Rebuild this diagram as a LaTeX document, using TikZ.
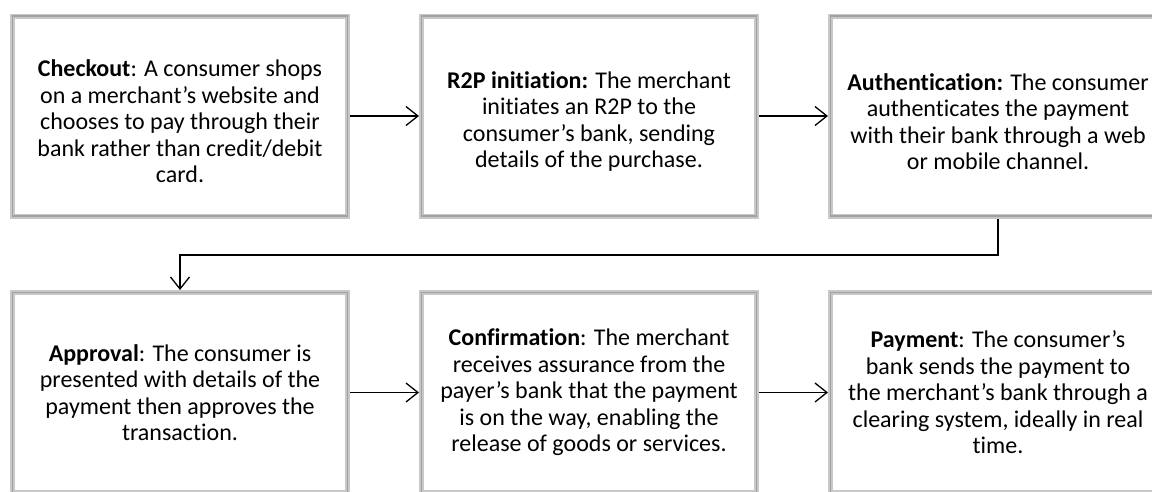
\documentclass[tikz,border=0pt]{standalone}
\usepackage{fontspec}
\setmainfont{Carlito}[Ligatures=NoCommon]
\usetikzlibrary{arrows.meta}
\newcommand{\lowerby}{\rule{0pt}{28pt}}
\begin{document}
\begin{tikzpicture}[x=1pt,y=-1pt,
  stepbox/.style={draw={rgb,255:red,200;green,200;blue,200}, line width=5pt,
    postaction={draw={rgb,255:red,160;green,160;blue,165}, line width=1.8pt},
    minimum width=335pt, minimum height=200pt, inner sep=0pt,
    align=center, font=\fontsize{24}{26.5}\selectfont},
  conn/.style={line width=1.3pt, -{Straight Barb[length=12pt,width=19pt,line width=1.3pt]}}]
\useasboundingbox (0,0) rectangle (1152,491);
\clip (0,0) rectangle (1152,491);
\fill[white] (0,0) rectangle (1152,491);
\node[stepbox] (b1) at (180,116) {\lowerby\textbf{Checkout}: A consumer shops\\on a merchant’s website and\\chooses to pay through their\\bank rather than credit/debit\\card.};
\node[stepbox] (b2) at (589,116) {\lowerby\textbf{R2P initiation:} The merchant\\initiates an R2P to the\\consumer’s bank, sending\\details of the purchase.};
\node[stepbox] (b3) at (998,116) {\lowerby\textbf{Authentication:} The consumer\\authenticates the payment\\with their bank through a web\\or mobile channel.};
\node[stepbox] (b4) at (180,392.5) {\textbf{Approval}: The consumer is\\presented with details of the\\payment then approves the\\transaction.};
\node[stepbox] (b5) at (589,392.5) {\textbf{Confirmation}: The merchant\\receives assurance from the\\payer’s bank that the payment\\is on the way, enabling the\\release of goods or services.};
\node[stepbox] (b6) at (998,392.5) {\textbf{Payment}: The consumer’s\\bank sends the payment to\\the merchant’s bank through a\\clearing system, ideally in real\\time.};
\coordinate (bend) at (180,255);
\draw[conn] (b1.east) -- (b2.west);
\draw[conn] (b2.east) -- (b3.west);
\draw[conn] (b3.south) |- (bend) -- (b4.north);
\draw[conn] (b4.east) -- (b5.west);
\draw[conn] (b5.east) -- (b6.west);
\end{tikzpicture}
\end{document}
